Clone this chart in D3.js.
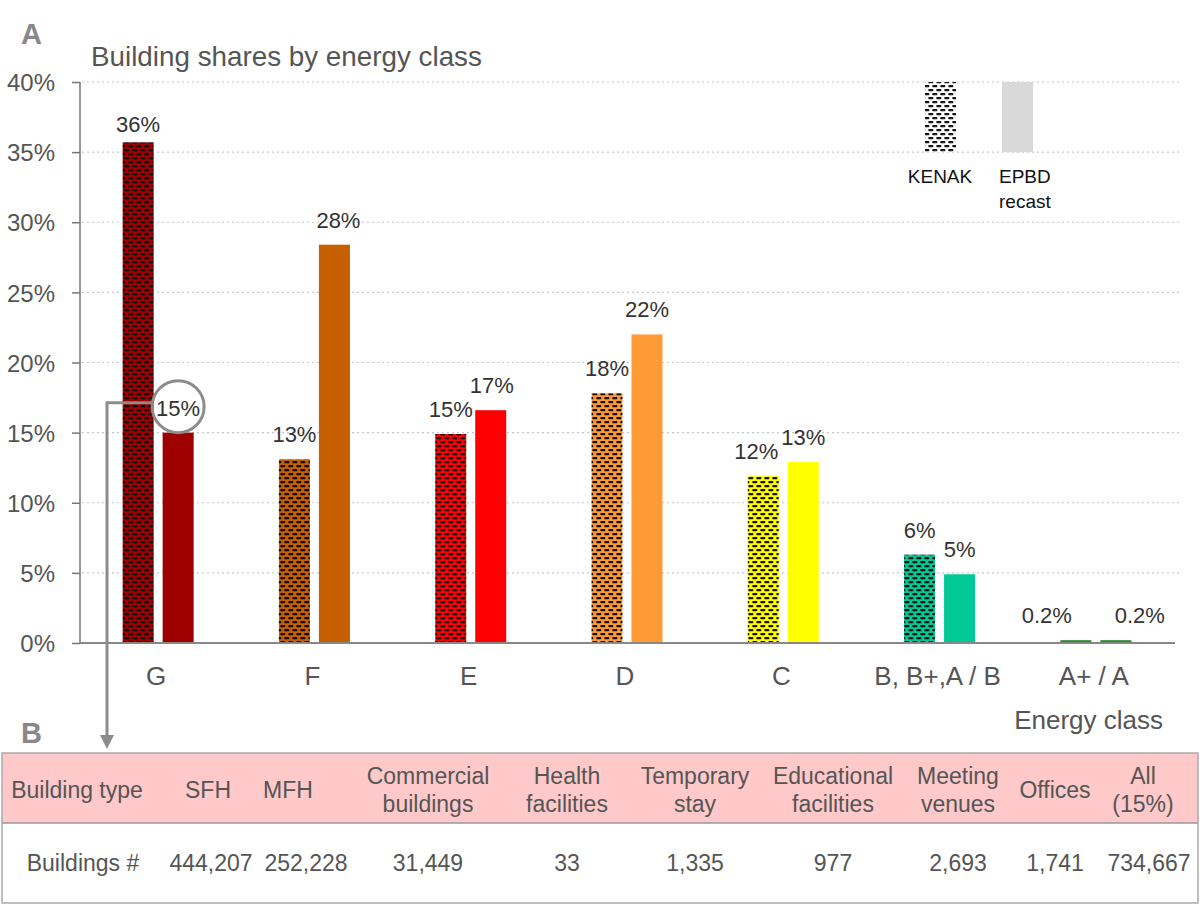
<!DOCTYPE html>
<html><head><meta charset="utf-8">
<script src="https://cdn.jsdelivr.net/npm/d3@7"></script>
<style>
html,body{margin:0;padding:0;background:#fff;}
svg{display:block;font-family:"Liberation Sans",Arial,Helvetica,sans-serif;}
</style></head>
<body>
<svg id="chart" width="1200" height="906"></svg>
<script>
// ---- data ----
const categories = ["G", "F", "E", "D", "C", "B, B+,A / B", "A+ / A"];
const series = ["KENAK", "EPBD recast"];
const kenakValues = [35.7, 13.1, 14.9, 17.8, 11.9, 6.3, 0.2];
const epbdValues  = [15.0, 28.4, 16.6, 22.0, 12.9, 4.9, 0.2];
const kenakLabels = ["36%", "13%", "15%", "18%", "12%", "6%", "0.2%"];
const epbdLabels  = ["15%", "28%", "17%", "22%", "13%", "5%", "0.2%"];
const classColors = ["#9e0000", "#c65f00", "#ff0000", "#ff9b37", "#ffff00", "#00c896", "#228b22"];
const yTicks = [0, 5, 10, 15, 20, 25, 30, 35, 40];
const tableHeaders = [["Building type"], ["SFH"], ["MFH"], ["Commercial", "buildings"], ["Health", "facilities"], ["Temporary", "stay"], ["Educational", "facilities"], ["Meeting", "venues"], ["Offices"], ["All", "(15%)"]];
const tableValues = ["Buildings #", "444,207", "252,228", "31,449", "33", "1,335", "977", "2,693", "1,741", "734,667"];

// ---- layout (styles/positions) ----
const labelNudgeK = [0, 0, 0, 0, -7, 0, -29];
const labelNudgeE = [0, 4, 1, 0, 0, 0, 24];
const labelLiftK = [10, 17, 17, 17, 17, 17, 17];
const labelLiftE = [17, 17, 17, 17, 17, 17, 17];
const headerCenters = [77, 208, 288, 428, 567, 695, 833, 958, 1055, 1143];
const bodyCenters = [83, 211, 306, 428, 567, 695, 833, 958, 1055, 1149];

const svg = d3.select("#chart");
const y = d3.scaleLinear().domain([0, 40]).range([643, 82]);
const x0 = d3.scaleBand().domain(categories).range([80, 1174]);
const x1 = d3.scaleBand().domain(series).range([-35.5, 35.5]).paddingInner(0.225);
const gc = c => x0(c) + x0.bandwidth() / 2;

// hatch patterns
const defs = svg.append("defs");
function hatch(id, base) {
  const p = defs.append("pattern").attr("id", id).attr("patternUnits", "userSpaceOnUse")
    .attr("width", 8).attr("height", 8);
  p.append("rect").attr("width", 8).attr("height", 8).attr("fill", base);
  const dc = "rgba(0,0,0,0.92)";
  p.append("rect").attr("x", 0.3).attr("y", 1).attr("width", 5).attr("height", 2.2).attr("rx", 0.7).attr("fill", dc);
  p.append("rect").attr("x", 4.3).attr("y", 5).attr("width", 5).attr("height", 2.2).attr("rx", 0.7).attr("fill", dc);
  p.append("rect").attr("x", -3.7).attr("y", 5).attr("width", 5).attr("height", 2.2).attr("rx", 0.7).attr("fill", dc);
}
classColors.forEach((c, i) => hatch("h" + i, c));
hatch("hwhite", "#ffffff");

// gridlines
svg.append("g").selectAll("line").data(yTicks.filter(t => t > 0)).join("line")
  .attr("x1", 82).attr("x2", 1180).attr("y1", d => y(d)).attr("y2", d => y(d))
  .attr("stroke", "#c8c8c8").attr("stroke-width", 1.2).attr("stroke-dasharray", "2,3");

// y axis
const yAxis = svg.append("g").attr("transform", "translate(80,0)")
  .call(d3.axisLeft(y).tickValues(yTicks).tickFormat(d => d + "%").tickSize(8).tickPadding(6));
yAxis.select(".domain").attr("stroke", "#777").attr("stroke-width", 1.5).attr("d", "M0," + y(40) + "V" + y(0));
yAxis.selectAll(".tick line").attr("stroke", "#777").attr("stroke-width", 1.5);
yAxis.selectAll(".tick text").attr("fill", "#555").attr("font-size", 24).attr("x", -25)
  .attr("dy", "0.36em").attr("font-family", "Liberation Sans, Arial, sans-serif");

// bars
const bars = svg.append("g");
categories.forEach((c, i) => {
  bars.append("rect").attr("x", gc(c) + x1("KENAK")).attr("width", x1.bandwidth())
    .attr("y", y(kenakValues[i])).attr("height", y(0) - y(kenakValues[i]))
    .attr("fill", kenakValues[i] < 1 ? classColors[i] : "url(#h" + i + ")");
  bars.append("rect").attr("x", gc(c) + x1("EPBD recast")).attr("width", x1.bandwidth())
    .attr("y", y(epbdValues[i])).attr("height", y(0) - y(epbdValues[i]))
    .attr("fill", classColors[i]);
});

// baseline
svg.append("line").attr("x1", 80).attr("x2", 1175).attr("y1", y(0)).attr("y2", y(0))
  .attr("stroke", "#888").attr("stroke-width", 1.8);

// value labels
const lab = svg.append("g").attr("font-size", 22).attr("fill", "#333").attr("text-anchor", "middle");
categories.forEach((c, i) => {
  lab.append("text").attr("x", gc(c) + x1("KENAK") + x1.bandwidth() / 2 + labelNudgeK[i])
    .attr("y", y(kenakValues[i]) - labelLiftK[i]).text(kenakLabels[i]);
  lab.append("text").attr("x", gc(c) + x1("EPBD recast") + x1.bandwidth() / 2 + labelNudgeE[i])
    .attr("y", y(epbdValues[i]) - labelLiftE[i]).text(epbdLabels[i]);
});

// category labels
svg.append("g").selectAll("text").data(categories).join("text")
  .attr("x", d => gc(d) - 2).attr("y", 685).attr("text-anchor", "middle")
  .attr("font-size", 26).attr("fill", "#555").text(d => d);

svg.append("text").attr("x", 1163).attr("y", 729).attr("text-anchor", "end")
  .attr("font-size", 26).attr("fill", "#555").text("Energy class");

// title and panel letters
svg.append("text").attr("x", 91).attr("y", 66).attr("font-size", 27.8).attr("fill", "#555")
  .text("Building shares by energy class");
svg.append("text").attr("x", 21).attr("y", 44).attr("font-size", 29).attr("font-weight", "bold")
  .attr("fill", "#888").text("A");
svg.append("text").attr("x", 21).attr("y", 743).attr("font-size", 29).attr("font-weight", "bold")
  .attr("fill", "#888").text("B");

// legend
svg.append("rect").attr("x", 925).attr("y", y(40)).attr("width", 31).attr("height", y(35) - y(40))
  .attr("fill", "url(#hwhite)");
svg.append("rect").attr("x", 1002).attr("y", y(40)).attr("width", 31).attr("height", y(35) - y(40))
  .attr("fill", "#d9d9d9");
svg.append("text").attr("x", 940).attr("y", 183).attr("text-anchor", "middle")
  .attr("font-size", 19).attr("fill", "#111").text("KENAK");
const lt = svg.append("text").attr("x", 999).attr("y", 183).attr("font-size", 19).attr("fill", "#111");
lt.append("tspan").attr("x", 999).text("EPBD");
lt.append("tspan").attr("x", 999).attr("dy", 25).text("recast");

// annotation circle and arrow
const gIdx = 0;
const cx = gc(categories[gIdx]) + x1("EPBD recast") + x1.bandwidth() / 2;
const cy = y(epbdValues[gIdx]) - labelLiftE[gIdx] - 9;
svg.append("circle").attr("cx", cx).attr("cy", cy).attr("r", 26)
  .attr("fill", "none").attr("stroke", "#8c8c8c").attr("stroke-width", 3);
svg.append("path").attr("d", `M${cx - 26},${cy - 4}H107V738`)
  .attr("fill", "none").attr("stroke", "#8c8c8c").attr("stroke-width", 3);
svg.append("path").attr("d", "M100,735L114,735L107,749Z").attr("fill", "#8c8c8c");

// table
const tbl = svg.append("g");
tbl.append("rect").attr("x", 2).attr("y", 753).attr("width", 1196).attr("height", 70)
  .attr("fill", "#ffc9c9");
tbl.append("rect").attr("x", 2).attr("y", 753).attr("width", 1196).attr("height", 150)
  .attr("fill", "none").attr("stroke", "#aaa").attr("stroke-width", 1.5);
tbl.append("line").attr("x1", 2).attr("x2", 1198).attr("y1", 823).attr("y2", 823)
  .attr("stroke", "#999").attr("stroke-width", 1.5);
tableHeaders.forEach((h, i) => {
  const t = tbl.append("text").attr("text-anchor", "middle").attr("font-size", 23).attr("fill", "#555");
  if (h.length === 1) {
    t.append("tspan").attr("x", headerCenters[i]).attr("y", 798).text(h[0]);
  } else {
    t.append("tspan").attr("x", headerCenters[i]).attr("y", 784).text(h[0]);
    t.append("tspan").attr("x", headerCenters[i]).attr("y", 812).text(h[1]);
  }
});
tableValues.forEach((v, i) => {
  tbl.append("text").attr("x", bodyCenters[i]).attr("y", 871).attr("text-anchor", "middle")
    .attr("font-size", 23).attr("fill", "#555").text(v);
});
</script>
</body></html>
